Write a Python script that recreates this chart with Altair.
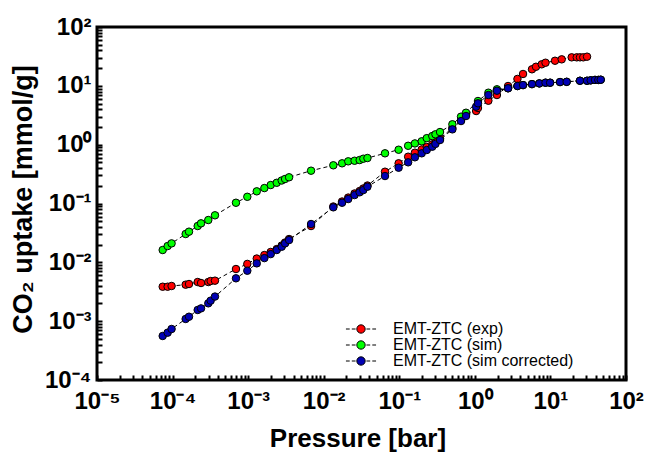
import altair as alt
import pandas as pd

# ---------------- data ----------------
series_names = ["EMT-ZTC (exp)", "EMT-ZTC (sim)", "EMT-ZTC (sim corrected)"]
series_colors = ["#ff0000", "#00ff00", "#0000b4"]

p_exp = [7.4e-5, 8.6e-5, 9.7e-5, 1.49e-4, 1.65e-4, 2.15e-4, 2.38e-4, 2.97e-4, 3.19e-4, 3.64e-4,
         6.9e-4, 9.75e-4, 1.30e-3, 1.64e-3, 1.99e-3, 2.39e-3, 2.78e-3, 3.08e-3, 3.48e-3, 6.8e-3,
         0.0134, 0.0175, 0.0211, 0.0256, 0.0299, 0.0334, 0.0379, 0.0647, 0.098, 0.131,
         0.161, 0.198, 0.231, 0.273, 0.301, 0.346, 0.504, 0.656, 0.764, 1.04,
         1.10, 1.51, 1.96, 2.75, 3.66, 4.34, 5.70, 6.44, 7.67, 8.61,
         11.5, 14.1, 19.1, 22.3, 24.6, 27.2, 30.5]
q_exp = [3.85e-3, 3.85e-3, 3.96e-3, 4.17e-3, 4.28e-3, 4.63e-3, 4.45e-3, 4.63e-3, 4.81e-3, 4.88e-3,
         7.7e-3, 9.4e-3, 0.0116, 0.0133, 0.0150, 0.0168, 0.0193, 0.0217, 0.0249, 0.0414,
         0.0889, 0.108, 0.126, 0.148, 0.163, 0.180, 0.202, 0.347, 0.482, 0.624,
         0.730, 0.828, 0.912, 1.01, 1.09, 1.27, 1.92, 2.62, 3.26, 3.73,
         4.20, 5.58, 6.98, 9.93, 13.1, 15.9, 19.1, 21.1, 23.2, 24.7,
         26.7, 28.2, 30.5, 30.5, 30.5, 30.5, 31.3]

p_sim = [7.4e-5, 8.6e-5, 9.7e-5, 1.49e-4, 1.65e-4, 2.15e-4, 2.38e-4, 2.97e-4, 3.64e-4, 6.9e-4,
         9.75e-4, 1.30e-3, 1.64e-3, 1.99e-3, 2.39e-3, 2.78e-3, 3.08e-3, 3.48e-3, 6.8e-3, 0.0134,
         0.0175, 0.0211, 0.0256, 0.0299, 0.0334, 0.0379, 0.0647, 0.098, 0.131, 0.161,
         0.198, 0.231, 0.273, 0.301, 0.346, 0.504, 0.656, 0.764, 1.10, 1.51,
         1.96, 2.75, 3.66, 4.34, 5.70, 7.13, 8.61, 9.9, 13.4, 16.4,
         24.6, 30.5, 34.1, 38.9, 43.0, 46.3]
q_sim = [0.0162, 0.0189, 0.0210, 0.0303, 0.0332, 0.0414, 0.046, 0.0524, 0.063, 0.103,
         0.130, 0.161, 0.183, 0.206, 0.225, 0.246, 0.261, 0.279, 0.361, 0.446,
         0.482, 0.521, 0.533, 0.548, 0.577, 0.593, 0.713, 0.820, 0.957, 1.05,
         1.14, 1.29, 1.40, 1.50, 1.64, 2.22, 2.99, 3.49, 5.52, 7.64,
         8.73, 9.08, 9.93, 10.3, 10.7, 11.0, 11.3, 11.3, 11.6, 11.7,
         12.2, 12.2, 12.4, 12.6, 12.6, 12.7]

p_cor = [7.4e-5, 8.6e-5, 9.7e-5, 1.49e-4, 1.65e-4, 2.15e-4, 2.38e-4, 2.97e-4, 3.19e-4, 3.64e-4,
         6.9e-4, 9.75e-4, 1.30e-3, 1.64e-3, 1.99e-3, 2.39e-3, 2.78e-3, 3.08e-3, 3.48e-3, 6.8e-3,
         0.0134, 0.0175, 0.0211, 0.0256, 0.0299, 0.0334, 0.0379, 0.0647, 0.098, 0.131,
         0.161, 0.198, 0.231, 0.273, 0.301, 0.346, 0.504, 0.656, 0.764, 1.04,
         1.10, 1.51, 1.96, 2.75, 3.66, 4.34, 5.70, 7.13, 8.61, 9.9,
         13.4, 16.4, 24.6, 30.5, 34.1, 38.9, 43.0, 46.3]
q_cor = [5.6e-4, 6.37e-4, 7.36e-4, 1.09e-3, 1.19e-3, 1.55e-3, 1.65e-3, 2.01e-3, 2.23e-3, 2.62e-3,
         5.35e-3, 7.2e-3, 9.6e-3, 0.0118, 0.0138, 0.0162, 0.0184, 0.0210, 0.0239, 0.0448,
         0.0861, 0.103, 0.119, 0.139, 0.155, 0.169, 0.193, 0.293, 0.406, 0.501,
         0.610, 0.713, 0.811, 0.923, 1.03, 1.20, 1.82, 2.52, 3.07, 4.42,
         5.05, 6.98, 8.26, 9.08, 9.93, 10.3, 10.7, 11.0, 11.3, 11.3,
         11.6, 11.7, 12.2, 12.2, 12.4, 12.6, 12.6, 12.7]

# axis ranges and tick positions (decades labelled, 2..9 unlabelled)
x_domain = [1e-5, 100]
y_domain = [1e-4, 100]
x_decades = [1e-5, 1e-4, 1e-3, 1e-2, 1e-1, 1e0, 1e1, 1e2]
y_decades = [1e-4, 1e-3, 1e-2, 1e-1, 1e0, 1e1, 1e2]
minor_mult = [1, 2, 3, 4, 5, 6, 7, 8, 9]
x_tick_values = [m * d for d in x_decades[:-1] for m in minor_mult] + [x_decades[-1]]
y_tick_values = [m * d for d in y_decades[:-1] for m in minor_mult] + [y_decades[-1]]

rows = []
for name, ps, qs in zip(series_names, [p_exp, p_sim, p_cor], [q_exp, q_sim, q_cor]):
    assert len(ps) == len(qs)
    for p, q in zip(ps, qs):
        rows.append({"series": name, "P": p, "q": q})
df = pd.DataFrame(rows)

FONT = "Liberation Sans"
W, H = 529, 353
TICK = 5  # axes are pulled inside the frame by the tick length, so ticks point inward

is_decade = "abs(log(datum.value)/LN10 - round(log(datum.value)/LN10)) < 0.001"
sup_expr = ("(" + is_decade + ") ? '10' + (datum.value < 0.5 ? '\u207b' : '') + "
            "['\u2070','\u00b9','\u00b2','\u00b3','\u2074','\u2075'][abs(round(log(datum.value)/LN10))] : ''")

xscale = alt.Scale(type="log", domain=x_domain, nice=False)
yscale = alt.Scale(type="log", domain=y_domain, nice=False)

x_axis = alt.Axis(orient="bottom", offset=-TICK, values=x_tick_values, labelExpr=sup_expr,
                  ticks=True, tickSize=TICK, tickWidth=2, tickColor="black",
                  domain=False, grid=False, labelFont=FONT, labelFontSize=24,
                  labelFontWeight="bold", labelColor="black", labelPadding=9 + TICK - TICK,
                  labelFlush=False, labelOverlap=False,
                  title="Pressure [bar]", titleFont=FONT, titleFontSize=26,
                  titleFontWeight="bold", titleColor="black", titleX=260.5, titleY=66 + TICK,
                  titleBaseline="alphabetic")
y_axis = alt.Axis(orient="left", offset=-TICK, values=y_tick_values, labelExpr=sup_expr,
                  ticks=True, tickSize=TICK, tickWidth=2, tickColor="black",
                  domain=False, grid=False, labelFont=FONT, labelFontSize=24,
                  labelFontWeight="bold", labelColor="black", labelPadding=6,
                  labelFlush=False, labelOverlap=False, labelBaseline="middle",
                  title="CO\u2082 uptake [mmol/g]", titleFont=FONT, titleFontSize=27,
                  titleFontWeight="bold", titleColor="black", titleX=-66 - TICK, titleY=172,
                  titleBaseline="alphabetic", titleAngle=270)

legend_symbol = ("M-3.6,0H-2.7M-2.2,0H-1.3M1.3,0H2.2M2.7,0H3.6"
                 "M1,0A1,1 0 1,1 -1,0A1,1 0 1,1 1,0Z")

lines = alt.Chart(df).mark_line(color="black", strokeDash=[4, 3], strokeWidth=1).encode(
    x=alt.X("P:Q", scale=xscale, axis=x_axis),
    y=alt.Y("q:Q", scale=yscale, axis=y_axis),
    detail="series:N",
)

points = alt.Chart(df).mark_circle(size=56, opacity=1, stroke="black", strokeWidth=1).encode(
    x=alt.X("P:Q", scale=xscale, axis=x_axis),
    y=alt.Y("q:Q", scale=yscale, axis=y_axis),
    color=alt.Color("series:N", sort=series_names,
                    scale=alt.Scale(domain=series_names, range=series_colors),
                    legend=alt.Legend(orient="none", legendX=256, legendY=294, title=None,
                                      symbolType=legend_symbol, symbolSize=70,
                                      symbolStrokeColor="black", symbolStrokeWidth=1,
                                      symbolOffset=0, padding=0, labelOffset=24,
                                      labelFont=FONT, labelFontSize=16, labelColor="black",
                                      labelFontWeight="normal", labelLimit=400, rowPadding=0)),
    order=alt.Order("idx:Q"),
).transform_window(idx="row_number()")

chart = alt.layer(lines, points).properties(
    width=W, height=H,
    padding={"left": 97, "top": 27, "right": 20, "bottom": 73},
    autosize=alt.AutoSizeParams(type="none"),
    background="white",
).configure_view(stroke="black", strokeWidth=3)

chart.save("out.html", embed_options={"renderer": "svg", "actions": False})
